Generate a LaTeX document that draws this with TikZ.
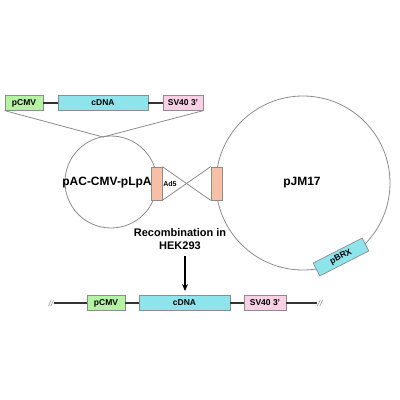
\documentclass[tikz,border=0pt]{standalone}
\usepackage{fontspec}
\setmainfont{Liberation Sans}
\usetikzlibrary{arrows.meta}
\definecolor{pgreen}{HTML}{B4F3A2}
\definecolor{pcyan}{HTML}{8DE5EB}
\definecolor{ppink}{HTML}{F9D0E4}
\definecolor{psalmon}{HTML}{F7BFA4}
\definecolor{pgray}{HTML}{8C8C8C}
\definecolor{plink}{HTML}{333333}
\tikzset{
  genebox/.style={draw=pgray, line width=0.7pt, minimum height=14.5pt, inner sep=0pt,
    font=\fontsize{8.5}{10}\selectfont\bfseries},
  adbox/.style={draw=pgray, line width=0.7pt, fill=psalmon, minimum width=11pt, minimum height=33pt, inner sep=0pt},
  link/.style={line width=1.3pt, plink},
  thin/.style={line width=0.8pt, pgray},
  biglabel/.style={font=\fontsize{12}{14}\selectfont\bfseries},
  breakmark/.style={font=\fontsize{8.5}{9}\selectfont\itshape, text=pgray, inner sep=0.5pt},
}
\begin{document}
\begin{tikzpicture}[x=1pt,y=-1pt]
\useasboundingbox (0,0) rectangle (400,400);
% top construct
\node[genebox, fill=pgreen, minimum width=38pt] (tp) at (24,103) {pCMV};
\node[genebox, fill=pcyan, minimum width=90pt] (tc) at (103,103) {cDNA};
\node[genebox, fill=ppink, minimum width=40pt] (ts) at (183,103) {SV40 3’};
\draw[link] (tp.east) -- (tc.west);
\draw[link] (tc.east) -- (ts.west);
% circles
\node[draw=pgray, line width=0.8pt, circle, minimum size=92pt, inner sep=0pt] (lc) at (111,182) {};
\node[draw=pgray, line width=0.8pt, circle, minimum size=174pt, inner sep=0pt] (rc) at (303,183) {};
\coordinate (conv) at (103,137);
\draw[thin] (tp.south west) -- (conv) -- (ts.south east);
\node[biglabel] (lclab) at (107,183) {pAC-CMV-pLpA};
\node[biglabel] (rclab) at (302,183) {pJM17};
% Ad5 boxes
\node[adbox] (a1) at (156.5,183.5) {};
\node[adbox] (a2) at (216.5,183.5) {};
\draw[thin] (a1.north east) -- (a2.south west);
\draw[thin] (a1.south east) -- (a2.north west);
\node[font=\fontsize{7}{8}\selectfont\bfseries] (ad5) at (170,184) {Ad5};
% pBRX
\node[genebox, fill=pcyan, minimum width=55pt, rotate=27] (pbrx) at (341,257) {pBRX};
% recombination
\node[font=\fontsize{11}{13}\selectfont\bfseries, align=center] (rec) at (180,239.5) {Recombination in\\HEK293};
\coordinate (arrs) at (185,256);
\coordinate (arre) at (185,291);
\draw[line width=1.2pt, -{Stealth[length=7pt,width=6pt]}] (arrs) -- (arre);
% bottom construct
\node[breakmark] (bl) at (51,303) {//};
\node[breakmark] (br) at (320,303) {//};
\node[genebox, fill=pgreen, minimum width=38pt] (bp) at (106,303) {pCMV};
\node[genebox, fill=pcyan, minimum width=91pt] (bc) at (184.5,303) {cDNA};
\node[genebox, fill=ppink, minimum width=42pt] (bs) at (265,303) {SV40 3'};
\draw[link] (bl.east) -- (bp.west);
\draw[link] (bp.east) -- (bc.west);
\draw[link] (bc.east) -- (bs.west);
\draw[link] (bs.east) -- (br.west);
\end{tikzpicture}
\end{document}
